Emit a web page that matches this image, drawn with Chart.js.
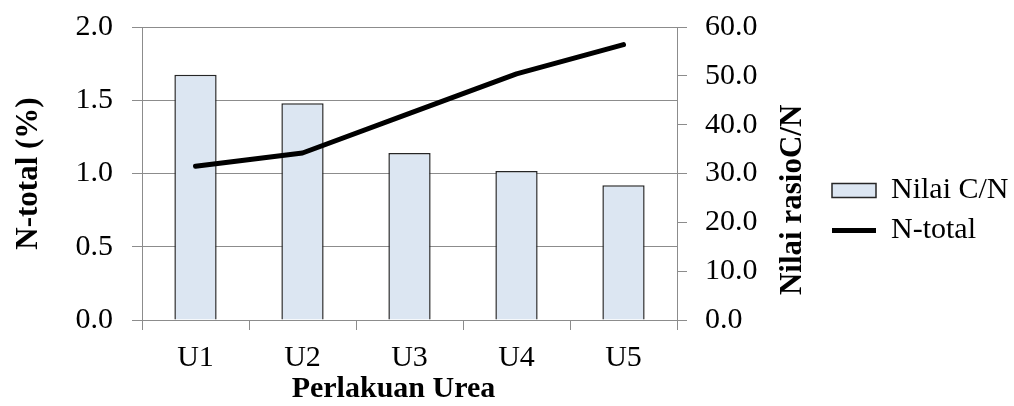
<!DOCTYPE html>
<html>
<head>
<meta charset="utf-8">
<script src="https://cdn.jsdelivr.net/npm/chart.js@4/dist/chart.umd.min.js"></script>
<style>
  html, body { margin: 0; padding: 0; background: #fff; }
  #wrap { width: 1014px; height: 406px; }
</style>
</head>
<body>
<div id="wrap"><canvas id="cnChart"></canvas></div>
<script>
const labels = ["U1", "U2", "U3", "U4", "U5"];
const nilaiCN = [50.2, 44.4, 34.2, 30.5, 27.6];
const nTotal = [1.05, 1.14, 1.41, 1.68, 1.88];
const leftTicks = [0.0, 0.5, 1.0, 1.5, 2.0];
const rightTicks = [0, 10, 20, 30, 40, 50, 60];

const serif = "'Liberation Serif', 'Times New Roman', serif";
const gridGray = "#8c8c8c";

// x title sits left of centre and the right title reads bottom-up and sits low,
// so both are drawn by hand
const axisTitles = {
  id: "axisTitles",
  afterDraw(chart) {
    const ctx = chart.ctx;
    const a = chart.chartArea;
    ctx.save();
    ctx.fillStyle = "#000";
    ctx.textAlign = "center";
    ctx.textBaseline = "middle";
    ctx.font = "bold 30px " + serif;
    ctx.fillText("Perlakuan Urea", a.left + a.width * 0.47, 389);
    ctx.font = "bold 31px " + serif;
    ctx.translate(a.right + 116, a.top + a.height * 0.59);
    ctx.rotate(-Math.PI / 2);
    ctx.fillText("Nilai rasioC/N", 0, 0);
    ctx.restore();
  }
};

const ctx = document.getElementById("cnChart").getContext("2d");
new Chart(ctx, {
  type: "bar",
  data: {
    labels: labels,
    datasets: [
      {
        type: "line",
        label: "N-total",
        data: nTotal,
        yAxisID: "y",
        borderColor: "#000",
        backgroundColor: "#000",
        borderWidth: 5,
        borderCapStyle: "round",
        borderJoinStyle: "round",
        tension: 0,
        pointRadius: 0,
        pointStyle: "line",
        order: 0
      },
      {
        label: "Nilai C/N",
        data: nilaiCN,
        yAxisID: "y1",
        backgroundColor: "#dce6f2",
        borderColor: "#262626",
        borderWidth: 1.5,
        barPercentage: 0.395,
        categoryPercentage: 1,
        pointStyle: "rect",
        order: 1
      }
    ]
  },
  options: {
    responsive: true,
    maintainAspectRatio: false,
    animation: false,
    layout: { padding: { top: 27, right: 0, left: 0, bottom: 12 } },
    plugins: {
      tooltip: { enabled: false },
      legend: {
        position: "right",
        reverse: true,
        maxWidth: 192,
        labels: {
          usePointStyle: true,
          pointStyleWidth: 44,
          boxHeight: 14,
          padding: 10,
          color: "#000",
          font: { family: serif, size: 30 }
        }
      }
    },
    scales: {
      x: {
        grid: {
          offset: true,
          drawOnChartArea: false,
          color: gridGray,
          tickLength: 10
        },
        border: { color: gridGray },
        ticks: {
          color: "#000",
          padding: 10,
          font: { family: serif, size: 30 }
        },
        afterFit(scale) { scale.height = 74; }
      },
      y: {
        position: "left",
        min: 0,
        max: 2,
        afterBuildTicks(scale) { scale.ticks = leftTicks.map(v => ({ value: v })); },
        grid: { color: gridGray, tickLength: 10 },
        border: { color: gridGray },
        ticks: {
          color: "#000",
          padding: 19,
          font: { family: serif, size: 30 },
          callback: v => Number(v).toFixed(1)
        },
        title: {
          display: true,
          text: "N-total (%)",
          color: "#000",
          padding: { top: 10, bottom: 0 },
          font: { family: serif, size: 31, weight: "bold" }
        },
        afterFit(scale) {
          scale.width = 142;
          scale.paddingTop = 0;
          scale.paddingBottom = 0;
        }
      },
      y1: {
        position: "right",
        min: 0,
        max: 60,
        afterBuildTicks(scale) { scale.ticks = rightTicks.map(v => ({ value: v })); },
        grid: { drawOnChartArea: false, color: gridGray, tickLength: 10 },
        border: { color: gridGray },
        ticks: {
          color: "#000",
          padding: 18,
          font: { family: serif, size: 30 },
          callback: v => Number(v).toFixed(1)
        },
        afterFit(scale) {
          scale.width = 145;
          scale.paddingTop = 0;
          scale.paddingBottom = 0;
        }
      }
    }
  },
  plugins: [axisTitles]
});
</script>
</body>
</html>
